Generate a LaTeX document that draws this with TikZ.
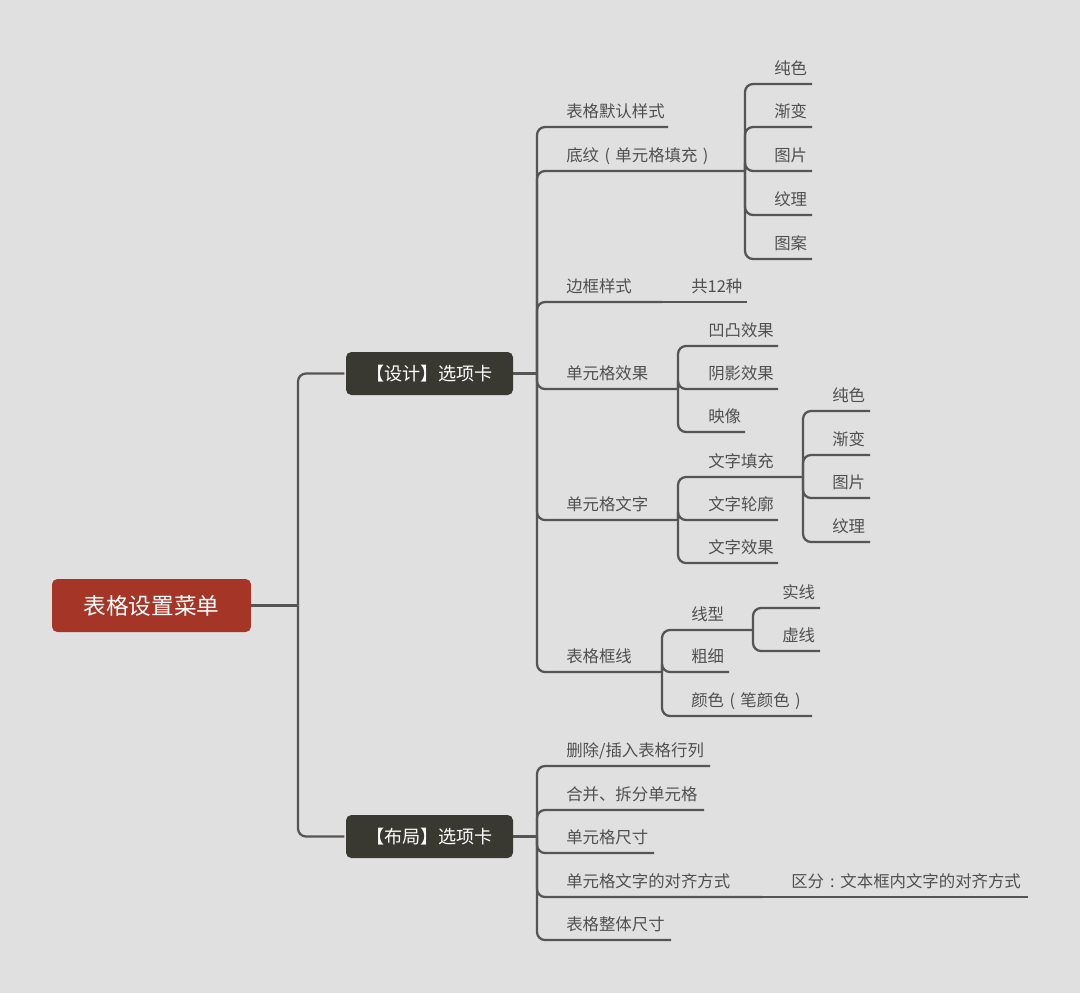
\documentclass[tikz,border=0pt]{standalone}
\usepackage{fontspec}
\newfontfamily\cjk{Noto Sans CJK SC}
\newcommand\fwbox[1]{\makebox[1em][c]{#1}}
\definecolor{bg}{HTML}{E0E0E0}
\definecolor{lg}{HTML}{555555}
\definecolor{tg}{HTML}{505050}
\definecolor{rootred}{HTML}{A53526}
\definecolor{darkbox}{HTML}{393932}
\tikzset{
  lbl/.style={anchor=base west, inner sep=0pt, text=tg, font=\cjk\fontsize{12.3}{14}\selectfont},
  br/.style={draw=lg, line width=1.7pt, rounded corners=6pt},
  tabbox/.style={fill=darkbox, rounded corners=4pt, text=white, minimum width=167*0.75pt, minimum height=43*0.75pt, inner sep=0pt, font=\cjk\fontsize{13.6}{16}\selectfont},
  rootbox/.style={fill=rootred, rounded corners=4pt, text=white, minimum width=199*0.75pt, minimum height=53*0.75pt, inner sep=0pt, font=\cjk\fontsize{17}{20}\selectfont}
}
\begin{document}
\begin{tikzpicture}[x=0.75pt,y=-0.75pt]
\fill[bg] (0,0) rectangle (1080,993);
\useasboundingbox (0,0) rectangle (1080,993);
% main boxes
\node[rootbox] (root) at (151.5,605.5) {表格设置菜单};
\node[tabbox] (design) at (429.5,373.5) {【设计】选项卡};
\node[tabbox] (layout) at (429.5,836.5) {【布局】选项卡};
\coordinate (R) at (298,605.5);
\coordinate (D) at (537,373.5);
\coordinate (L) at (537,836.5);
\draw[br] (root.east) -- (R);
\draw[br] (R) |- ([xshift=-1pt]design.west);
\draw[br] (R) |- ([xshift=-1pt]layout.west);
\draw[br] (design.east) -- (D);
\draw[br] (layout.east) -- (L);
% ---- design level 2
\node[lbl] (a1) at (566,117) {表格默认样式};
\coordinate (a1e) at (668,127);
\draw[br] (D) |- (a1e);
\node[lbl] (a2) at (566,161) {底纹\fwbox{(}单元格填充\fwbox{)}};
\coordinate (a2j) at (745,171);
\draw[br] (D) |- (a2j);
\node[lbl] (a3) at (566,292) {边框样式};
\coordinate (a3j) at (662,302);
\draw[br] (D) |- (a3j);
\node[lbl] (a4) at (566,379) {单元格效果};
\coordinate (a4j) at (678,389);
\draw[br] (D) |- (a4j);
\node[lbl] (a5) at (566,510) {单元格文字};
\coordinate (a5j) at (678,520);
\draw[br] (D) |- (a5j);
\node[lbl] (a6) at (566,662) {表格框线};
\coordinate (a6j) at (662,672);
\draw[br] (D) |- (a6j);
% 底纹 children
\node[lbl] (s1) at (774,74) {纯色};
\node[lbl] (s2) at (774,117) {渐变};
\node[lbl] (s3) at (774,161) {图片};
\node[lbl] (s4) at (774,205) {纹理};
\node[lbl] (s5) at (774,249) {图案};
\coordinate (s1e) at (812,84);
\coordinate (s2e) at (812,127);
\coordinate (s3e) at (812,171);
\coordinate (s4e) at (812,215);
\coordinate (s5e) at (812,259);
\foreach \e in {s1e,s2e,s3e,s4e,s5e} \draw[br] (a2j) |- (\e);
% 边框样式 child
\node[lbl] (c12) at (691,292) {共12种};
\coordinate (c12e) at (747,302);
\draw[br] (a3j) -- (c12e);
% 单元格效果 children
\node[lbl] (e1) at (708,336) {凹凸效果};
\node[lbl] (e2) at (708,379) {阴影效果};
\node[lbl] (e3) at (708,422) {映像};
\coordinate (e1e) at (778,346);
\coordinate (e2e) at (778,389);
\coordinate (e3e) at (745,432);
\foreach \e in {e1e,e2e,e3e} \draw[br] (a4j) |- (\e);
% 单元格文字 children
\node[lbl] (t1) at (708,467) {文字填充};
\node[lbl] (t2) at (708,510) {文字轮廓};
\node[lbl] (t3) at (708,553) {文字效果};
\coordinate (t1j) at (803,477);
\coordinate (t2e) at (778,520);
\coordinate (t3e) at (778,563);
\foreach \e in {t1j,t2e,t3e} \draw[br] (a5j) |- (\e);
% 文字填充 children
\node[lbl] (f1) at (832,401) {纯色};
\node[lbl] (f2) at (832,445) {渐变};
\node[lbl] (f3) at (832,488) {图片};
\node[lbl] (f4) at (832,532) {纹理};
\coordinate (f1e) at (870,411);
\coordinate (f2e) at (870,455);
\coordinate (f3e) at (870,498);
\coordinate (f4e) at (870,542);
\foreach \e in {f1e,f2e,f3e,f4e} \draw[br] (t1j) |- (\e);
% 表格框线 children
\node[lbl] (k1) at (691,620) {线型};
\node[lbl] (k2) at (691,662) {粗细};
\node[lbl] (k3) at (691,706) {颜色\fwbox{(}笔颜色\fwbox{)}};
\coordinate (k1j) at (753,630);
\coordinate (k2e) at (729,672);
\coordinate (k3e) at (812,716);
\foreach \e in {k1j,k2e,k3e} \draw[br] (a6j) |- (\e);
% 线型 children
\node[lbl] (x1) at (782,598) {实线};
\node[lbl] (x2) at (782,641) {虚线};
\coordinate (x1e) at (820,608);
\coordinate (x2e) at (820,651);
\foreach \e in {x1e,x2e} \draw[br] (k1j) |- (\e);
% ---- layout level 2
\node[lbl] (b1) at (566,756) {删除/插入表格行列};
\node[lbl] (b2) at (566,800) {合并、拆分单元格};
\node[lbl] (b3) at (566,843) {单元格尺寸};
\node[lbl] (b4) at (566,887) {单元格文字的对齐方式};
\node[lbl] (b5) at (566,930) {表格整体尺寸};
\coordinate (b1e) at (710,766);
\coordinate (b2e) at (704,810);
\coordinate (b3e) at (654,853);
\coordinate (b4j) at (762,897);
\coordinate (b5e) at (671,940);
\foreach \e in {b1e,b2e,b3e,b4j,b5e} \draw[br] (L) |- (\e);
\node[lbl] (q) at (791,887) {区分\fwbox{:}文本框内文字的对齐方式};
\coordinate (qe) at (1028,897);
\draw[br] (b4j) -- (qe);
\end{tikzpicture}
\end{document}
